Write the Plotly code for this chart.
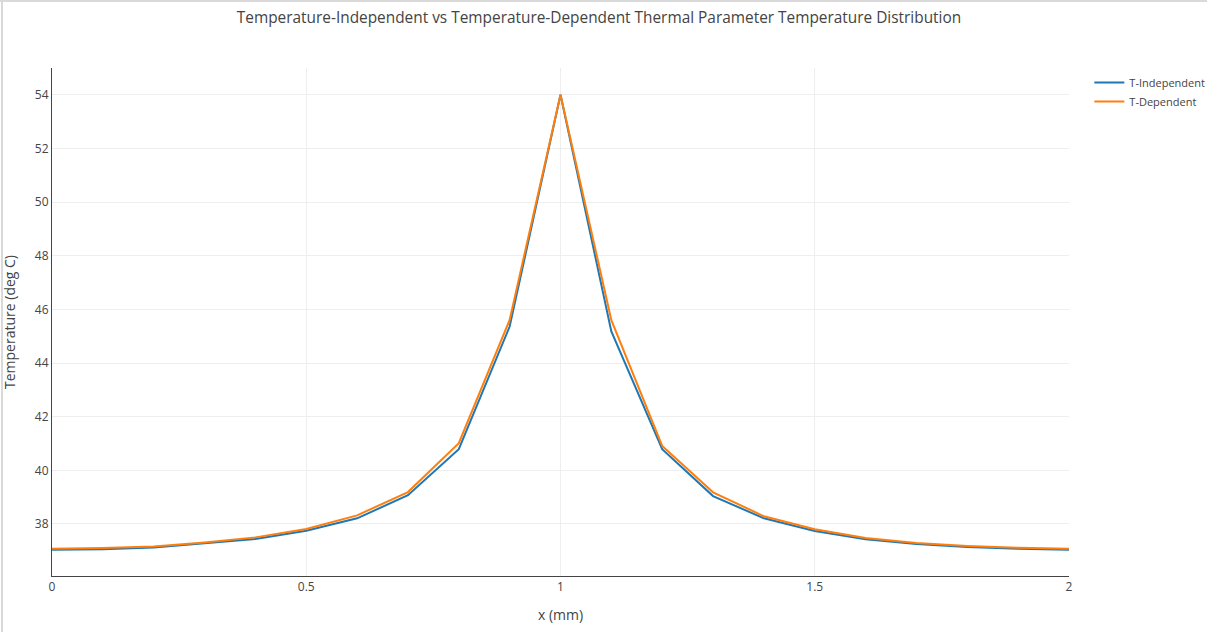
import plotly.graph_objects as go

x_mm = [0.0, 0.1, 0.2, 0.3, 0.4, 0.5, 0.6, 0.7, 0.8, 0.9, 1.0,
        1.1, 1.2, 1.3, 1.4, 1.5, 1.6, 1.7, 1.8, 1.9, 2.0]
t_independent = [37.04, 37.06, 37.12, 37.27, 37.44, 37.75, 38.21, 39.07, 40.79, 45.36, 54.0,
                 45.18, 40.79, 39.04, 38.21, 37.74, 37.43, 37.25, 37.14, 37.08, 37.04]
t_dependent = [37.08, 37.10, 37.16, 37.31, 37.50, 37.81, 38.32, 39.19, 41.01, 45.61, 54.0,
               45.60, 40.91, 39.18, 38.29, 37.80, 37.48, 37.29, 37.18, 37.11, 37.08]

fig = go.Figure()
fig.add_trace(go.Scatter(x=x_mm, y=t_independent, mode="lines", name="T-Independent",
                         line=dict(color="#1f77b4", width=2)))
fig.add_trace(go.Scatter(x=x_mm, y=t_dependent, mode="lines", name="T-Dependent",
                         line=dict(color="#ff7f0e", width=2)))

fig.update_layout(
    width=1207, height=632, autosize=False,
    margin=dict(l=52, r=138, t=68, b=56, autoexpand=False),
    paper_bgcolor="white", plot_bgcolor="white",
    font=dict(family="Open Sans, verdana, arial, sans-serif", color="#444", size=12),
    title=dict(text="Temperature-Independent vs Temperature-Dependent Thermal Parameter Temperature Distribution",
               x=599 / 1207, xref="container", xanchor="center",
               y=1 - 18 / 632, yref="container", yanchor="middle",
               font=dict(size=15.4, color="#444")),
    legend=dict(x=1.02, y=1, xanchor="left", yanchor="top", font=dict(size=11)),
    xaxis=dict(title=dict(text="x (mm)"), range=[0, 2], showline=True, linecolor="#444",
               linewidth=1, gridcolor="#eee", zeroline=False, tickvals=[0, 0.5, 1, 1.5, 2],
               ticktext=["0", "0.5", "1", "1.5", "2"]),
    yaxis=dict(title=dict(text="Temperature (deg C)"), range=[36.06, 55.0], showline=True,
               linecolor="#444", linewidth=1, gridcolor="#eee", zeroline=False, dtick=2),
    shapes=[
        dict(type="line", xref="paper", yref="paper", x0=-52 / 1017, x1=1 + 138 / 1017,
             y0=1 + 67 / 508, y1=1 + 67 / 508, line=dict(color="#d9d9d9", width=2)),
        dict(type="line", xref="paper", yref="paper", x0=-50 / 1017, x1=-50 / 1017,
             y0=-56 / 508, y1=1 + 68 / 508, line=dict(color="#d9d9d9", width=2)),
    ],
)

fig.write_html("out.html", post_script="document.body.style.margin='0';")
